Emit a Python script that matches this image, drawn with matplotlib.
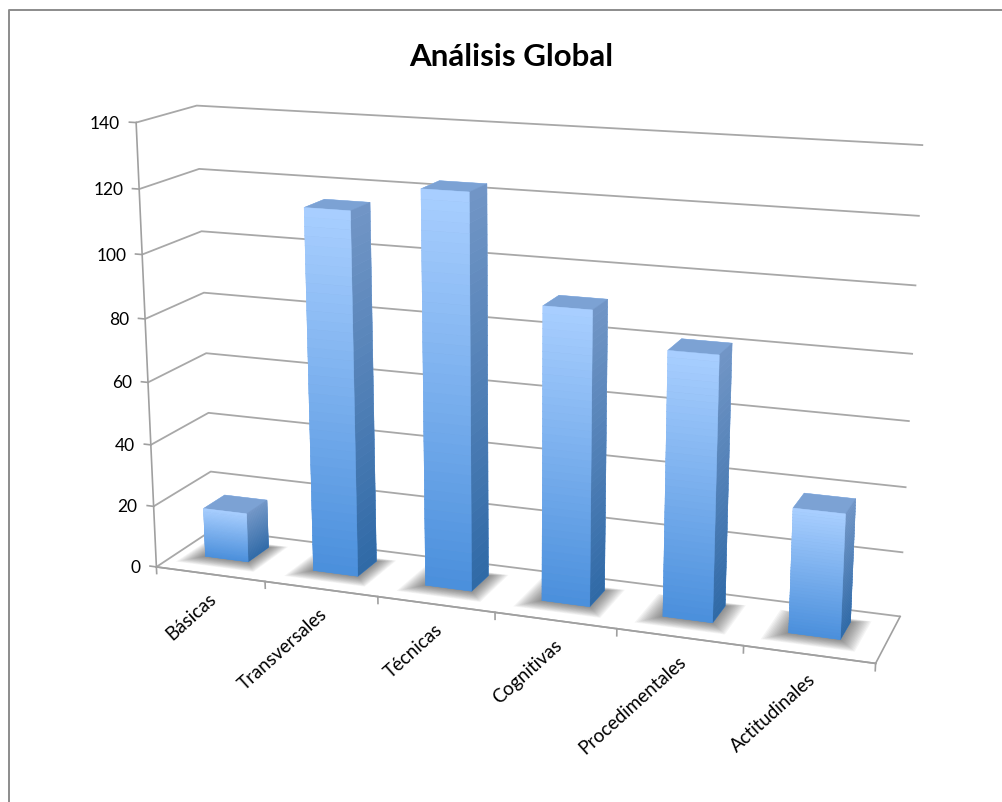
# grafico de barras 3D: analisis global de competencias
import numpy as np
import matplotlib
matplotlib.use("Agg")
import matplotlib.pyplot as plt
from mpl_toolkits.mplot3d import proj3d
from mpl_toolkits.mplot3d.art3d import Poly3DCollection

categorias = ["Básicas", "Transversales", "Técnicas", "Cognitivas", "Procedimentales", "Actitudinales"]
valores = [16, 115, 123, 91, 81, 38]
marcas_z = [0, 20, 40, 60, 80, 100, 120, 140]

plt.rcParams["font.family"] = ["Lato", "DejaVu Sans"]

fig = plt.figure(figsize=(10.02, 8.03), dpi=100)
ax = fig.add_axes([5 / 1002, 21 / 803, 1, 1], projection="3d")
ax.set_proj_type("persp", focal_length=0.5)
ax.view_init(elev=15, azim=-70)
ax.set_box_aspect((1.62, 0.27, 1.0), zoom=1.10)

ax.set_xlim(0, 6, view_margin=0)
ax.set_ylim(0, 1, view_margin=0)
ax.set_zlim(0, 140, view_margin=0)
ax.computed_zorder = False

gris_eje = "#a0a0a0"

# paredes blancas, solo lineas horizontales
for eje in (ax.xaxis, ax.yaxis, ax.zaxis):
    eje.set_pane_color((1, 1, 1, 1))
    eje.pane.set_edgecolor((1, 1, 1, 0))
    eje.line.set_color(gris_eje)
    eje.line.set_linewidth(1.2)
    eje._axinfo["tick"]["inward_factor"] = 0
    eje._axinfo["tick"]["outward_factor"] = 0
    eje._axinfo["grid"]["color"] = "#a8a8a8"
    eje._axinfo["grid"]["linewidth"] = 1.3
ax.xaxis._axinfo["grid"]["linewidth"] = 0
ax.yaxis._axinfo["grid"]["linewidth"] = 0

ax.set_xticks([])
ax.set_yticks([])
ax.set_zticks(marcas_z)
ax.set_zticklabels([""] * len(marcas_z))
ax.zaxis._axinfo["juggled"] = (1, 0, 2)

M = ax.get_proj()


def etiqueta(texto, x, y, z, **kw):
    # texto 2D anclado a un punto 3D
    px, py, _ = proj3d.proj_transform(x, y, z, M)
    ax.annotate(texto, xy=(px, py), xycoords="data", textcoords="offset pixels",
                annotation_clip=False, **kw)


# eje vertical con sus marcas y numeros
ax.plot([0, 0], [0, 0], [0, 140], color=gris_eje, linewidth=1.2, zorder=1)
for z in marcas_z:
    ax.plot([-0.06, 0], [0, 0], [z, z], color=gris_eje, linewidth=1.2, zorder=1)
    etiqueta(str(z), 0, 0, z, xytext=(-16, 0), ha="right", va="center", fontsize=12.5)

# marcas entre categorias
for k in range(7):
    ax.plot([k, k], [0, 0], [-2.2, 0], color=gris_eje, linewidth=1.2, zorder=1)

base_clara = np.array(matplotlib.colors.to_rgb("#4a8fdc"))
alto_claro = np.array(matplotlib.colors.to_rgb("#a9cfff"))
base_lado = np.array(matplotlib.colors.to_rgb("#2f69a6"))
alto_lado = np.array(matplotlib.colors.to_rgb("#7296c6"))
tapa = matplotlib.colors.to_rgb("#7ca2d4")

ancho = 0.40
y0, y1 = 0.37, 0.75
for i, v in enumerate(valores):
    x0 = i + 0.46 - ancho / 2
    # sombra difusa sobre el suelo
    for k in range(14):
        d = 1 - k / 14
        xs = [x0 - d * 0.17, x0 + ancho + d * 0.15, x0 + ancho + d * 0.15, x0 - d * 0.17]
        ys = [y0 - d * 0.2, y0 - d * 0.2, y1 + d * 0.07, y1 + d * 0.07]
        ax.add_collection3d(Poly3DCollection([list(zip(xs, ys, [0] * 4))],
                                             facecolors=(0.2, 0.2, 0.2, 0.05),
                                             edgecolors="none", zorder=2))
    # barra en tramos para el degradado vertical
    n = 40
    cortes = np.linspace(0, v, n + 1)
    cols = []
    for j in range(n):
        t = (j + 0.5) / n
        frente = base_clara + (alto_claro - base_clara) * t
        lado = base_lado + (alto_lado - base_lado) * t
        # orden de caras: -z, +z, -y, +y, -x, +x
        cols += [frente, tapa, frente, frente, frente, lado]
    ax.bar3d([x0] * n, [y0] * n, cortes[:-1], ancho, y1 - y0, v / n,
             color=cols, edgecolors=cols, linewidth=0.3, shade=False, zorder=3 + i)
    # etiqueta girada, bajo el centro de cada categoria
    etiqueta(categorias[i], i + 0.5, 0, 0, xytext=(-2, -15), rotation=42, ha="right", va="top",
             rotation_mode="anchor", fontsize=13.5)

fig.text(0.51, 0.929, "Análisis Global", ha="center", va="center", fontsize=22.5, fontweight="bold")

# marco del grafico: solo arriba y a la izquierda
fig.add_artist(plt.Line2D([8.5 / 1002, 8.5 / 1002, 1], [0, 1 - 10.5 / 803, 1 - 10.5 / 803],
                          transform=fig.transFigure, color="#8c8c8c", linewidth=1.4))

fig.savefig("out.png", dpi=100)
